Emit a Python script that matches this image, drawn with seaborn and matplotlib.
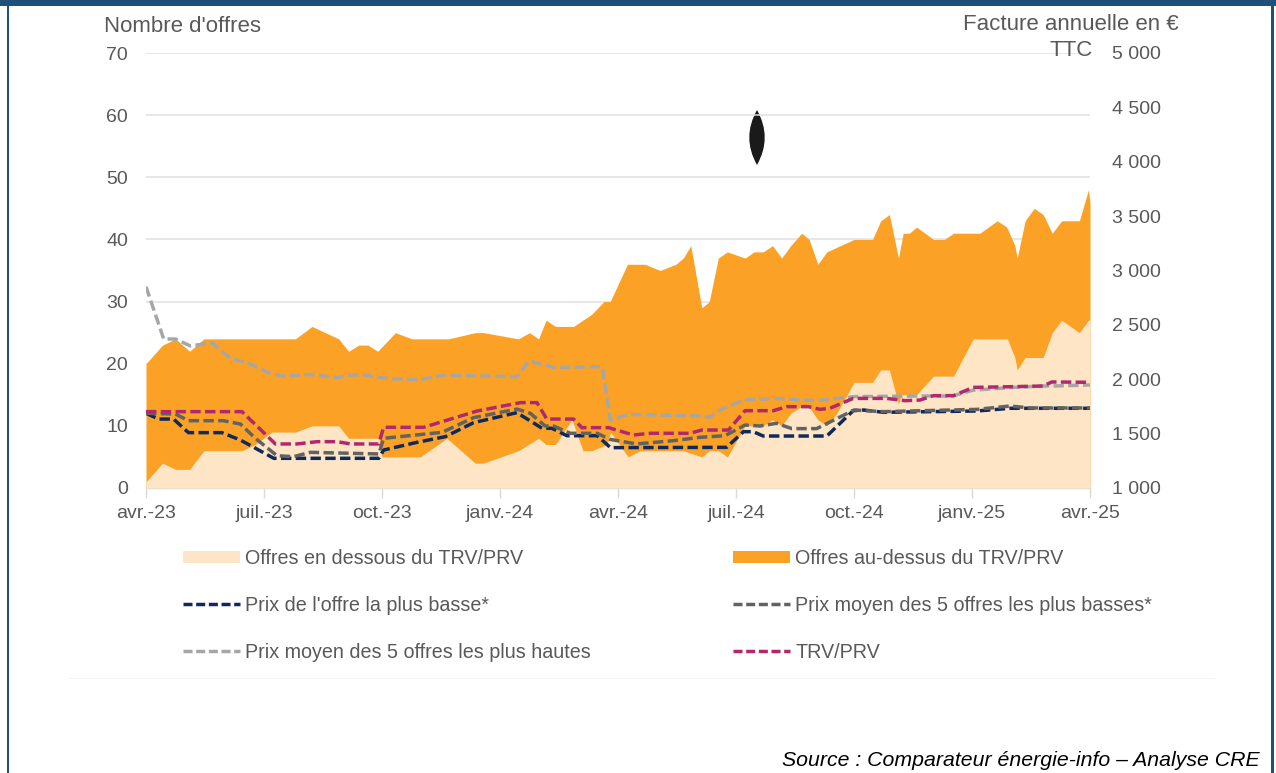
import matplotlib
matplotlib.use("Agg")
import matplotlib.pyplot as plt
import seaborn as sns
from matplotlib.patches import Rectangle, PathPatch, Patch
from matplotlib.path import Path
from matplotlib.lines import Line2D

# x values are months since April 2023
above_x = [0,.42,.75,1.11,1.47,3.8,4.22,4.9,5.15,5.41,5.64,5.89,6.34,6.76,7.69,8.37,8.58,9.47,9.75,9.98,10.17,10.41,10.87,11.34,11.64,11.8,12.24,12.69,13.07,13.47,13.66,13.85,14.13,14.32,14.55,14.78,15.23,15.46,15.69,15.93,16.16,16.39,16.67,16.86,17.08,17.31,18.0,18.47,18.68,18.9,19.13,19.25,19.41,19.59,20.02,20.3,20.53,21.2,21.42,21.64,21.88,22.09,22.15,22.35,22.58,22.81,23.04,23.28,23.73,23.96,24]
above_y = [20,23,24,22,24,24,26,24,22,23,23,22,25,24,24,25,25,24,25,24,27,26,26,28,30,30,36,36,35,36,37,39,29,30,37,38,37,38,38,39,37,39,41,40,36,38,40,40,43,44,37,41,41,42,40,40,41,41,42,43,42,39,37,43,45,44,41,43,43,48,46]
below_x = [0,.42,.75,1.11,1.47,2.44,2.78,3.2,3.8,4.22,4.9,5.15,5.92,6.0,6.97,7.65,8.37,8.58,9.47,9.98,10.17,10.41,10.83,11.11,11.34,11.72,11.81,12.26,12.56,13.66,14.13,14.32,14.55,14.78,15.23,15.69,15.93,16.16,16.39,16.63,16.86,17.08,17.31,17.56,18.0,18.47,18.68,18.9,19.13,19.2,19.59,20.02,20.53,21.03,21.9,22.09,22.15,22.35,22.81,23.04,23.28,23.73,23.96,24]
below_y = [1,4,3,3,6,6,7,9,9,10,10,8,8,5,5,8,4,4,6,8,7,7,11,6,6,7,9,5,6,6,5,6,6,5,10,10,11,10,12,13,13,11,10,12,17,17,19,19,13.5,15,15,18,18,24,24,21,19,21,21,25,27,25,27,27]

lowest_x = [0,.32,.7,1.08,1.93,2.4,3.25,5.92,6.04,6.89,7.61,8.33,9.43,10.07,10.32,10.7,11.47,11.81,14.76,15.19,15.44,15.69,17.31,17.98,18.25,18.75,21.12,21.97,24]
lowest_y = [1687,1634,1634,1509,1509,1441,1273,1273,1349,1420,1472,1601,1693,1549,1549,1481,1481,1371,1374,1518,1518,1478,1478,1711,1717,1696,1708,1733,1733]
low5_x = [0,.75,1.08,1.97,2.4,2.78,3.33,3.75,4.18,5.92,6.04,7.53,8.33,9.43,9.77,10.15,10.36,10.79,11.47,11.8,12.47,13.41,14.08,14.72,15.23,15.61,16.03,16.42,17.05,18,18.75,21.12,21.97,22.47,24]
low5_y = [1687,1680,1619,1619,1588,1457,1297,1288,1328,1313,1457,1512,1647,1726,1687,1570,1570,1503,1503,1447,1405,1435,1466,1481,1579,1570,1595,1546,1546,1717,1702,1723,1754,1736,1736]
top5_x = [0,.45,.75,1.13,1.68,2.14,2.57,3.16,3.5,4.18,4.86,5.2,5.53,6.13,6.89,7.57,9.43,9.73,10.36,11.6,11.8,12.26,14.08,14.32,14.59,15.19,16.03,17.05,18,19.6,20.5,21.03,22.05,22.81,23.06,24]
top5_y = [2851,2370,2370,2306,2336,2192,2152,2054,2030,2045,2014,2039,2039,2008,1993,2036,2024,2168,2110,2116,1625,1677,1662,1650,1717,1809,1824,1803,1840,1846,1846,1900,1925,1938,1938,1947]
trv_x = [0,2.44,3.29,3.84,4.35,4.86,5.2,5.92,6.04,7.06,8.42,9.52,9.94,10.19,10.87,11.08,11.76,12.39,12.81,13.83,14.13,14.81,15.23,15.95,16.29,16.84,17.14,17.39,17.98,18.83,19.3,19.68,20.02,20.53,21.03,22.05,22.81,23.03,24]
trv_y = [1702,1702,1405,1405,1426,1426,1405,1405,1558,1558,1708,1785,1785,1634,1634,1555,1555,1487,1503,1503,1533,1533,1711,1711,1748,1748,1723,1733,1824,1824,1803,1809,1849,1849,1925,1932,1938,1975,1972]

x_ticks = [0,3,6,9,12,15,18,21,24]
x_labels = ["avr.-23","juil.-23","oct.-23","janv.-24","avr.-24","juil.-24","oct.-24","janv.-25","avr.-25"]
left_ticks = [0,10,20,30,40,50,60,70]
right_ticks = [1000,1500,2000,2500,3000,3500,4000,4500,5000]
right_labels = ["1 000","1 500","2 000","2 500","3 000","3 500","4 000","4 500","5 000"]
names = ["Offres en dessous du TRV/PRV","Offres au-dessus du TRV/PRV","Prix de l'offre la plus basse*",
         "Prix moyen des 5 offres les plus basses*","Prix moyen des 5 offres les plus hautes","TRV/PRV"]

ORANGE, PALE, NAVY, DGREY, LGREY, PINK = "#FBA226", "#FDE5C5", "#10295C", "#626262", "#A6A6A6", "#B0286E"
TXT = "#595959"
W, H = 1276, 773

sns.set_theme(style="white")
plt.rcParams["font.family"] = ["Liberation Sans", "DejaVu Sans"]

fig = plt.figure(figsize=(W/100, H/100), dpi=100, facecolor="white")
ax = fig.add_axes([146/W, 1-488/H, (1090-146)/W, (488-53)/H])
ax2 = ax.twinx()
ax.set_zorder(1); ax2.set_zorder(2); ax.patch.set_visible(False); ax2.patch.set_visible(False)

ax.fill_between(above_x, 0, above_y, color=ORANGE, lw=0, zorder=2)
ax.fill_between(below_x, 0, below_y, color=PALE, lw=0, zorder=3)
ax.set_xlim(0, 24); ax.set_ylim(0, 70)
ax.set_xticks(x_ticks, x_labels); ax.set_yticks(left_ticks)
ax.yaxis.grid(True, color="#E0E0E0", lw=1.1, zorder=1); ax.set_axisbelow(True)
ax.tick_params(axis="x", length=7, width=1, color="#D9D9D9", labelsize=14, labelcolor=TXT, pad=5.5, bottom=True)
ax.tick_params(axis="y", length=0, labelsize=14, labelcolor=TXT, pad=13)
for s in ["top", "left", "right"]:
    ax.spines[s].set_visible(False)
ax.spines["bottom"].set_color("#D9D9D9"); ax.spines["bottom"].set_linewidth(1)

dash = (0, (3.0, 1.25))
lw = 2.5
for xs, ys, c in [(top5_x, top5_y, LGREY), (lowest_x, lowest_y, NAVY), (low5_x, low5_y, DGREY), (trv_x, trv_y, PINK)]:
    sns.lineplot(x=xs, y=ys, ax=ax2, color=c, linewidth=lw, linestyle=dash, estimator=None, sort=False, errorbar=None)
ax2.set_xlim(0, 24); ax2.set_ylim(1000, 5000)
ax2.set_yticks(right_ticks, right_labels); ax2.set_ylabel(""); ax2.set_xlabel("")
ax2.tick_params(axis="y", length=0, labelsize=14, labelcolor=TXT, pad=16)
for s in ax2.spines.values():
    s.set_visible(False)
ax2.grid(False)

def ln(c):
    return Line2D([], [], color=c, lw=lw, linestyle=(0, (2.6, 1.05)))
handles = [Patch(color=PALE, lw=0), ln(NAVY), ln(LGREY), Patch(color=ORANGE, lw=0), ln(DGREY), ln(PINK)]
labels = [names[0], names[2], names[4], names[1], names[3], names[5]]
leg = fig.legend(handles, labels, ncols=2, loc="upper left", bbox_to_anchor=(183/W, 1-549/H), frameon=False,
                 borderpad=0, borderaxespad=0, fontsize=14.2, handlelength=2.9, handletextpad=0.25,
                 columnspacing=7.2, labelspacing=1.42, handleheight=0.6)
for t in leg.get_texts():
    t.set_color(TXT)

fig.text(104/W, 1-27/H, "Nombre d'offres", fontsize=16, color=TXT, va="center", ha="left")
fig.text(1179/W, 1-25/H, "Facture annuelle en €", fontsize=16, color=TXT, va="center", ha="right")
fig.text(1093/W, 1-51/H, "TTC", fontsize=16, color=TXT, va="center", ha="right")
fig.text(1260/W, 1-761/H, "Source : Comparateur énergie-info – Analyse CRE", fontsize=15.3, style="italic",
         color="black", va="center", ha="right")

# page frame
def px_rect(x0, y0, x1, y1, c):
    fig.add_artist(Rectangle((x0/W, 1-y1/H), (x1-x0)/W, (y1-y0)/H, transform=fig.transFigure, color=c, lw=0))
FRAME = "#1F5078"
px_rect(0, 0, W, 6, FRAME)
px_rect(7, 0, 9, H, FRAME)
px_rect(1271, 0, 1274, H, FRAME)
px_rect(68, 678, 1215, 679, "#F4F4F4")
px_rect(746, 107, 769, 125, "white")

# black spindle mark on the page
cx, top, bot, bulge = 757, 110, 165, 15.5
mid = (top + bot) / 2
verts = [(cx, top), (cx+bulge, mid), (cx, bot), (cx-bulge, mid), (cx, top)]
verts = [(x/W, 1-y/H) for x, y in verts]
fig.add_artist(PathPatch(Path(verts, [Path.MOVETO]+[Path.CURVE3]*4), transform=fig.transFigure, color="#1A1A1A", lw=0))

fig.savefig("out.png", dpi=100)
